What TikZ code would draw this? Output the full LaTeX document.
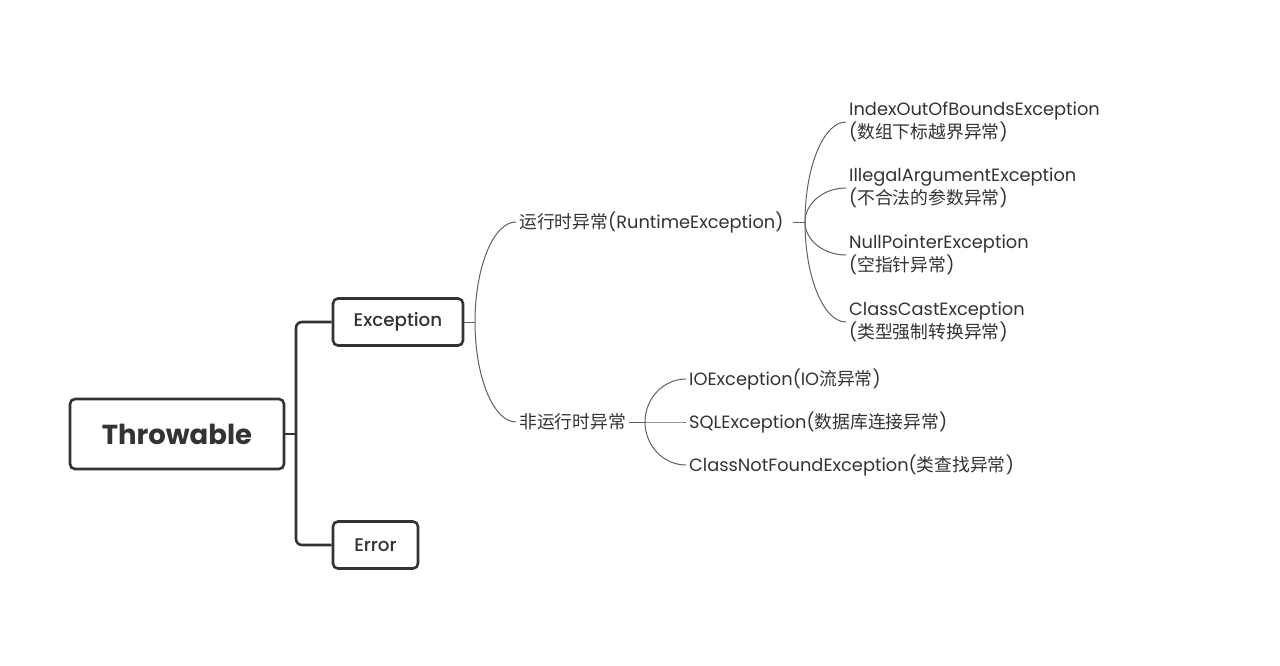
\documentclass[tikz,border=0pt]{standalone}
\usepackage{fontspec}
\setmainfont{Poppins}
\newfontfamily\cjk{Noto Sans CJK SC}
\newfontfamily\medfont{Poppins Medium}
\usetikzlibrary{calc}
\definecolor{ink}{HTML}{333333}
\definecolor{twiggray}{HTML}{606060}
\newcommand\zh[1]{{\cjk #1}}

\tikzset{
  box/.style={draw=ink, line width=2.6pt, rounded corners=5pt, text=ink,
    minimum height=47pt, inner xsep=20pt, font=\medfont\fontsize{18.3}{21}\selectfont},
  rootbox/.style={box, minimum width=214pt, minimum height=70pt,
    font=\bfseries\fontsize{27.5}{32}\selectfont},
  lbl/.style={text=ink, inner sep=3pt, align=left, font=\fontsize{17.8}{23}\selectfont},
  trunk/.style={draw=ink, line width=2.6pt, rounded corners=6pt},
  twig/.style={draw=twiggray, line width=1pt},
}

\begin{document}
\begin{tikzpicture}[x=1pt,y=-1pt]
\useasboundingbox (0,0) rectangle (1280,665);

% 1. Throwable and its two boxes
\node[rootbox] (throw) at (177,434) {Throwable};
\node[box, minimum width=130pt] (exc) at (398,322) {Exception};
\node[box, minimum width=85pt] (err) at (375.5,545) {Error};
\coordinate (spine) at (296,434);
\draw[trunk] (throw.east) -- (spine);
\draw[trunk] (exc.west) -| (spine) |- (err.west);

% 2. runtime / non-runtime
\node[lbl, anchor=west] (rt) at (516,222) {\zh{运行时异常}(RuntimeException)};
\node[lbl, anchor=west] (nrt) at (516,422) {\zh{非运行时异常}};
\coordinate (f1) at (475,322);
\draw[twig] (exc.east) -- (f1);
\foreach \c in {rt,nrt}
  \draw[twig] (f1) .. controls ($(f1)!0.55!(f1|-\c.west)$) and ($(\c.west)!0.55!(f1|-\c.west)$) .. (\c.west);

% 3. RuntimeException children
\coordinate (f2) at (805,222);
\draw[twig] ([xshift=6pt]rt.east) -- (f2);
\foreach \n/\y/\en/\cn in {idx/122/IndexOutOfBoundsException/数组下标越界异常,
    arg/188/IllegalArgumentException/不合法的参数异常,
    npe/255/NullPointerException/空指针异常,
    cce/322/ClassCastException/类型强制转换异常}
{
  \node[lbl, anchor=west] (\n) at (846,\y) {\en\\(\zh{\cn})};
  \draw[twig] (f2) .. controls ($(f2)!0.55!(f2|-\n.west)$) and ($(\n.west)!0.55!(f2|-\n.west)$) .. (\n.west);
}

% 4. non-runtime children
\coordinate (f3) at (645,422);
\draw[twig] (nrt.east) -- (f3);
\node[lbl, anchor=west] (io) at (686,379) {IOException(IO\zh{流异常})};
\node[lbl, anchor=west] (sql) at (686,422) {SQLException(\zh{数据库连接异常})};
\node[lbl, anchor=west] (cnf) at (686,465) {ClassNotFoundException(\zh{类查找异常})};
\foreach \c in {io,sql,cnf}
  \draw[twig] (f3) .. controls ($(f3)!0.55!(f3|-\c.west)$) and ($(\c.west)!0.55!(f3|-\c.west)$) .. (\c.west);
\end{tikzpicture}
\end{document}
